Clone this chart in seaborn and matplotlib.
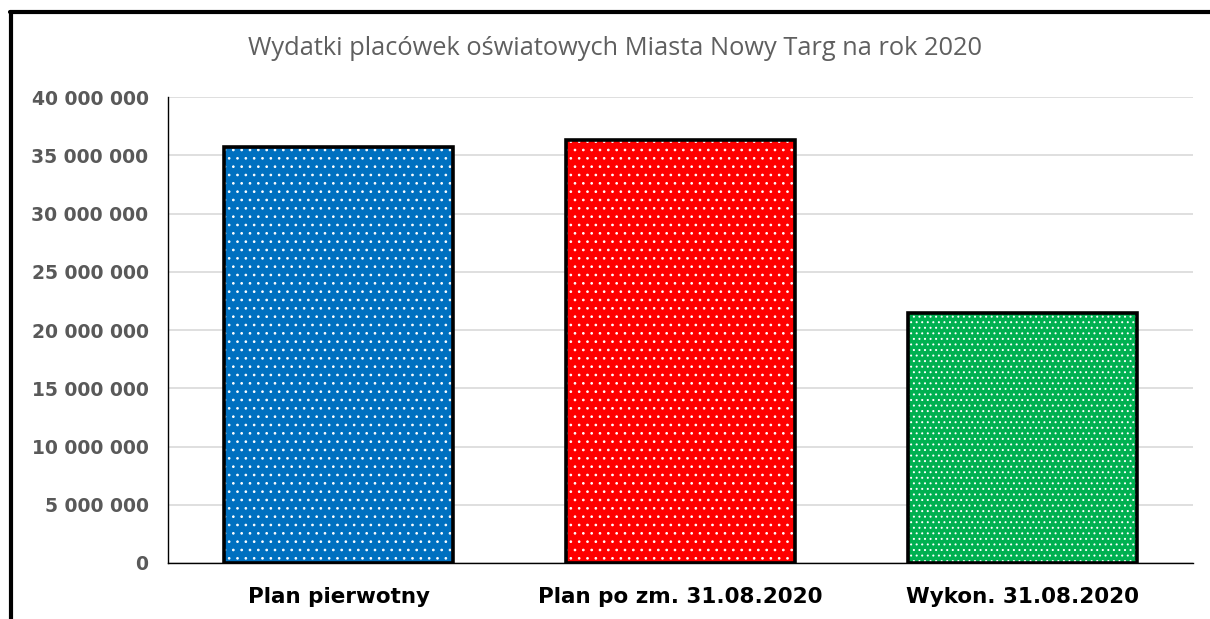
import matplotlib
matplotlib.use("Agg")
import matplotlib.pyplot as plt
import matplotlib.ticker as mticker
from matplotlib.lines import Line2D
import seaborn as sns
import pandas as pd

# data
categories = ["Plan pierwotny", "Plan po zm. 31.08.2020", "Wykon. 31.08.2020"]
values = [35700000, 36300000, 21450000]
colors = ["#0070C0", "#FF0000", "#00B050"]
hatches = ["..", "..", "..."]
title = "Wydatki placówek oświatowych Miasta Nowy Targ na rok 2020"

df = pd.DataFrame({"kategoria": categories, "kwota": values})

sns.set_style("white")
plt.rcParams["font.family"] = ["DejaVu Sans"]
plt.rcParams["hatch.linewidth"] = 0.7

fig = plt.figure(figsize=(12.1, 6.19), dpi=100)
ax = fig.add_axes([0.1388, 0.0905, 0.8472, 0.7525])

# filled bars with white dot pattern
sns.barplot(data=df, x="kategoria", y="kwota", hue="kategoria", palette=colors,
            saturation=1, width=0.67, edgecolor="white", linewidth=0,
            legend=False, ax=ax, zorder=2)
for bar, h in zip(ax.patches, hatches):
    bar.set_hatch(h)

# black outlines on top
sns.barplot(data=df, x="kategoria", y="kwota", color="none", fill=False,
            width=0.67, edgecolor="black", linewidth=2.6, ax=ax, zorder=3)

ax.set_ylim(0, 40000000)
ax.yaxis.set_major_locator(mticker.MultipleLocator(5000000))
ax.yaxis.set_major_formatter(mticker.FuncFormatter(lambda v, p: f"{v:,.0f}".replace(",", " ")))
ax.grid(axis="y", color="#D9D9D9", linewidth=1.2, zorder=0)
ax.set_axisbelow(True)
ax.set_xlabel("")
ax.set_ylabel("")
ax.tick_params(axis="y", length=0, pad=14, labelsize=13.5, labelcolor="#595959")
ax.tick_params(axis="x", length=0, pad=17, labelsize=15.5, labelcolor="black")
for lab in ax.get_yticklabels():
    lab.set_fontweight("bold")
for lab in ax.get_xticklabels():
    lab.set_fontweight("bold")

for side in ["top", "right"]:
    ax.spines[side].set_visible(False)
ax.spines["left"].set_color("black")
ax.spines["left"].set_linewidth(1.0)
ax.spines["bottom"].set_color("black")
ax.spines["bottom"].set_linewidth(1.0)

fig.text(0.508, 0.922, title, ha="center", va="center", fontsize=18.3,
         color="#5F5F5F", family=["Open Sans", "DejaVu Sans"])

# frame lines on the left and top edge of the picture
fig.add_artist(Line2D([0.0094, 0.0094], [0.0, 0.981], color="black", linewidth=3, transform=fig.transFigure))
fig.add_artist(Line2D([0.0082, 1.0], [0.981, 0.981], color="black", linewidth=3, transform=fig.transFigure))

fig.savefig("out.png", dpi=100)
